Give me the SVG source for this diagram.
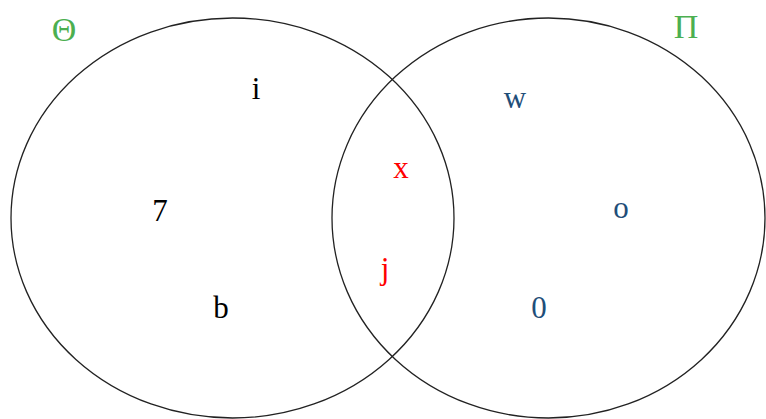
<svg xmlns="http://www.w3.org/2000/svg" width="766" height="419" viewBox="0 0 766 419">
<style>
.set{fill:none;stroke:#222;stroke-width:1.3}
text{font-family:"Liberation Serif","Times New Roman",serif;font-size:31px;text-anchor:middle}
.g{fill:#4caf50;font-size:34px}
.k{fill:#000}
.r{fill:#ff0000}
.b{fill:#1f4e79}
</style>
<rect width="766" height="419" fill="#fff"/>
<g id="set-theta">
<ellipse class="set" cx="232.5" cy="218" rx="221.5" ry="200"/>
<text class="g" x="64" y="41">Θ</text>
</g>
<g id="set-pi">
<ellipse class="set" cx="548.5" cy="218" rx="216.5" ry="200"/>
<text class="g" x="686" y="38">Π</text>
</g>
<g id="connectors"></g>
<g id="element-i"><text class="k" x="256" y="99">i</text></g>
<g id="element-7"><text class="k" x="160" y="221">7</text></g>
<g id="element-b"><text class="k" x="221" y="318">b</text></g>
<g id="element-x"><text class="r" x="401" y="178">x</text></g>
<g id="element-j"><text class="r" x="385" y="279">j</text></g>
<g id="element-w"><text class="b" x="515" y="108">w</text></g>
<g id="element-o"><text class="b" x="621" y="218">o</text></g>
<g id="element-0"><text class="b" x="539" y="318">0</text></g>
</svg>
